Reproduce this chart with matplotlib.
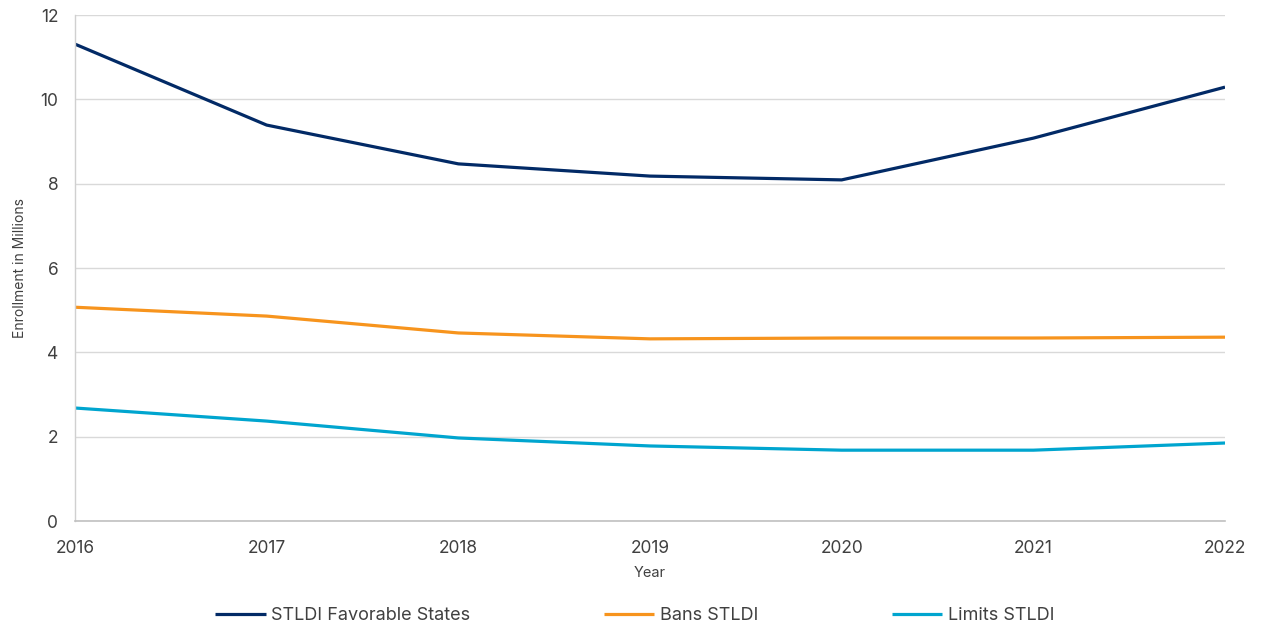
import matplotlib.pyplot as plt

plt.rcParams["font.family"] = ["Inter", "DejaVu Sans"]

years = [2016, 2017, 2018, 2019, 2020, 2021, 2022]
favorable = [11.31, 9.39, 8.47, 8.18, 8.09, 9.08, 10.29]
bans = [5.07, 4.86, 4.46, 4.32, 4.34, 4.34, 4.36]
limits = [2.68, 2.37, 1.97, 1.78, 1.68, 1.68, 1.85]

series = [
    ("STLDI Favorable States", favorable, "#022a66"),
    ("Bans STLDI", bans, "#f7941d"),
    ("Limits STLDI", limits, "#00a5cf"),
]

text_color = "#404040"

fig = plt.figure(figsize=(12.62, 6.31), dpi=100)
ax = fig.add_axes([0.0594, 0.1743, 0.9113, 0.8019])

for label, values, color in series:
    ax.plot(years, values, color=color, linewidth=2.3, label=label,
            solid_capstyle="butt")

ax.set_xlim(2016, 2022)
ax.set_ylim(0, 12)
ax.set_yticks(range(0, 13, 2))
ax.set_xticks(years)

ax.grid(axis="y", color="#d9d9d9", linewidth=1.0)
ax.set_axisbelow(True)
for side in ["top", "right"]:
    ax.spines[side].set_visible(False)
ax.spines["left"].set_color("#d0d0d0")
ax.spines["bottom"].set_color("#c0c0c0")
ax.spines["left"].set_linewidth(1.0)
ax.spines["bottom"].set_linewidth(1.2)

ax.tick_params(axis="both", length=0, labelsize=12.5, labelcolor=text_color)
ax.tick_params(axis="x", pad=14)
ax.tick_params(axis="y", pad=12)

ax.set_xlabel("Year", fontsize=10.5, color=text_color, labelpad=6)
ax.set_ylabel("Enrollment in Millions", fontsize=10, color=text_color, labelpad=10)

fig.legend(loc="center", bbox_to_anchor=(0.503, 0.024), ncol=3, frameon=False,
           fontsize=13, labelcolor=text_color, handlelength=2.8,
           handletextpad=0.3, columnspacing=7.4)

fig.savefig("out.png", dpi=100)
